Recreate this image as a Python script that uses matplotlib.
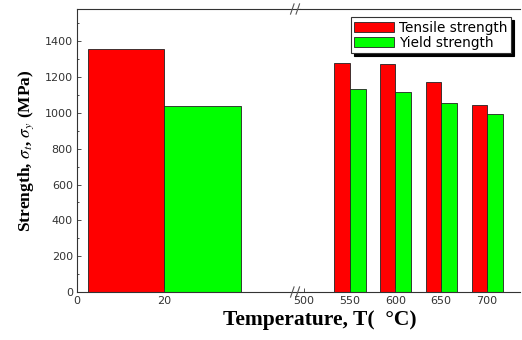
import numpy as np
import matplotlib.pyplot as plt

# data
temp_low = [20]
tensile_low = [1355]
yield_low = [1040]

temp_high = [550, 600, 650, 700]
tensile_high = [1280, 1275, 1170, 1045]
yield_high = [1135, 1115, 1055, 995]

yticks = [0, 200, 400, 600, 800, 1000, 1200, 1400]
xticks_low = [0, 20]
xticks_high = [500, 550, 600, 650, 700]

RED = '#ff0000'
GREEN = '#00ff00'
EDGE = '#222222'

plt.rcParams['mathtext.fontset'] = 'stix'

fig = plt.figure(figsize=(5.22, 3.40), dpi=100)
b = 1 - 292 / 340
h = (292 - 9) / 340
ax1 = fig.add_axes([77 / 522, b, (300 - 77) / 522, h])
ax2 = fig.add_axes([300 / 522, b, (520 - 300) / 522, h])

ax1.bar(temp_low, tensile_low, width=-17.5, align='edge', color=RED, edgecolor=EDGE, linewidth=0.6)
ax1.bar(temp_low, yield_low, width=17.5, align='edge', color=GREEN, edgecolor=EDGE, linewidth=0.6)
ax2.bar(temp_high, tensile_high, width=-16.5, align='edge', color=RED, edgecolor=EDGE, linewidth=0.6,
        label='Tensile strength')
ax2.bar(temp_high, yield_high, width=17.5, align='edge', color=GREEN, edgecolor=EDGE, linewidth=0.6,
        label='Yield strength')

ax1.set_xlim(0, 51)
ax2.set_xlim(496, 736)
for ax in (ax1, ax2):
    ax.set_ylim(0, 1580)
    ax.spines['right'].set_visible(False)
    for s in ('top', 'bottom', 'left'):
        ax.spines[s].set_linewidth(0.8)
        ax.spines[s].set_color('#333333')
    ax.tick_params(direction='in', length=3, width=0.6, labelsize=8, labelcolor='#333333',
                   colors='#333333', pad=3)
    ax.tick_params(which='minor', direction='in', length=1.5, width=0.5)
    for lab in ax.get_xticklabels() + ax.get_yticklabels():
        lab.set_family('DejaVu Sans')

ax2.spines['left'].set_visible(False)
ax2.tick_params(axis='y', left=False, labelleft=False, which='both')

ax1.set_yticks(yticks)
ax1.set_yticks(np.arange(100, 1580, 200), minor=True)
ax1.set_xticks(xticks_low)
ax2.set_xticks(xticks_high)

# break marks
for y0 in (0, 1):
    for dx in (-0.035, -0.01):
        ax2.plot([dx - 0.008, dx + 0.008], [y0 - 0.018, y0 + 0.018], transform=ax2.transAxes,
                 color='#555555', linewidth=0.8, clip_on=False)

ax1.set_ylabel(r'Strength, $\sigma_t$, $\sigma_y$ (MPa)', family='Liberation Serif',
               fontweight='bold', fontsize=12.5, labelpad=6)
fig.text(320 / 522, 0.058, 'Temperature, T(  \u00b0C)', family='Liberation Serif',
         fontweight='bold', fontsize=15.5, ha='center', va='center')

leg = ax2.legend(loc='upper right', bbox_to_anchor=(0.96, 0.97), prop={'family': 'DejaVu Sans', 'size': 9.8},
                 frameon=True, fancybox=False, shadow={'color': 'black', 'alpha': 1.0}, borderpad=0.25,
                 labelspacing=0.05, handlelength=2.9, handleheight=0.8, handletextpad=0.4, borderaxespad=0)
leg.get_frame().set_edgecolor('#333333')
leg.get_frame().set_linewidth(0.8)

fig.savefig('out.png', dpi=100)
